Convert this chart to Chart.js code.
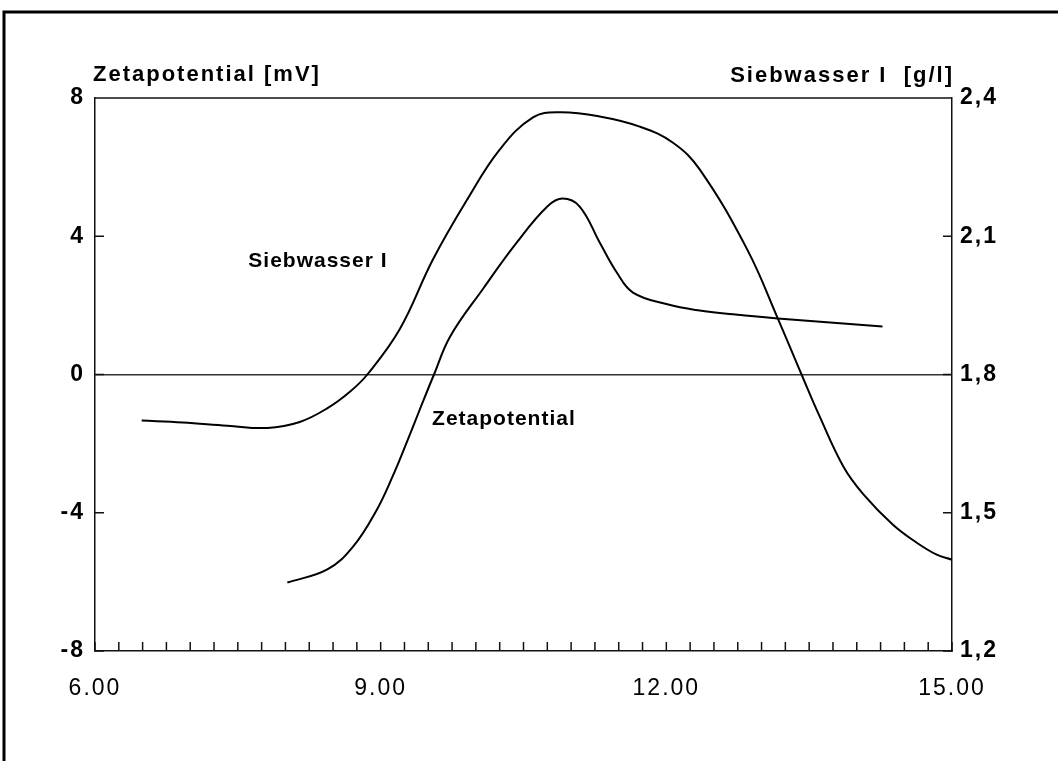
<!DOCTYPE html>
<html>
<head>
<meta charset="utf-8">
<script src="https://cdn.jsdelivr.net/npm/chart.js@4/dist/chart.umd.min.js"></script>
<style>
  html, body { margin: 0; padding: 0; background: #fff; }
  #wrap { width: 1058px; height: 761px; }
</style>
</head>
<body>
<div id="wrap"><canvas id="myChart"></canvas></div>
<script>
// Siebwasser I [g/l] (right axis) over time of day
var sieTime  = [6.49, 6.92, 7.39, 7.81, 8.15, 8.45, 8.68, 8.86, 9.20, 9.55, 9.91, 10.25, 10.60, 10.88, 11.30, 11.72, 12.07, 12.35, 12.85, 13.17, 13.42, 13.61, 13.86, 14.07, 14.38, 14.63, 14.84, 15.00];
var sieValue = [1.700, 1.696, 1.689, 1.684, 1.697, 1.728, 1.763, 1.800, 1.898, 2.050, 2.180, 2.288, 2.358, 2.369, 2.360, 2.338, 2.303, 2.245, 2.071, 1.922, 1.800, 1.709, 1.600, 1.540, 1.474, 1.435, 1.409, 1.398];

// Zetapotential [mV] (left axis)
var zetaTime  = [8.02, 8.44, 8.71, 8.96, 9.13, 9.28, 9.41, 9.56, 9.73, 10.07, 10.43, 10.75, 10.91, 11.09, 11.30, 11.48, 11.65, 12.01, 12.35, 12.70, 13.17, 14.27];
var zetaValue = [-6.02, -5.64, -4.98, -3.91, -2.92, -1.92, -1.02, 0.00, 1.10, 2.46, 3.82, 4.86, 5.09, 4.86, 3.82, 2.95, 2.37, 2.03, 1.85, 1.74, 1.62, 1.39];

var xLabels = [6, 9, 12, 15];

function toPoints(xs, ys) {
  return xs.map(function (x, i) { return { x: x, y: ys[i] }; });
}

var font = 'Liberation Sans, Arial, sans-serif';

// frame, inward ticks, titles and curve labels
var decor = {
  id: 'decor',
  beforeDraw: function (chart) {
    chart.ctx.letterSpacing = '2px';
  },
  afterDraw: function (chart) {
    var ctx = chart.ctx, a = chart.chartArea, s = chart.scales;
    ctx.save();
    ctx.strokeStyle = '#111';
    ctx.lineWidth = 1.5;
    ctx.beginPath();
    ctx.moveTo(a.left, a.top);
    ctx.lineTo(a.right, a.top);
    s.x.ticks.forEach(function (t) {
      var px = s.x.getPixelForValue(t.value);
      ctx.moveTo(px, a.bottom);
      ctx.lineTo(px, a.bottom - 9);
    });
    s.y.ticks.forEach(function (t) {
      var py = s.y.getPixelForValue(t.value);
      ctx.moveTo(a.left, py);
      ctx.lineTo(a.left + 9, py);
    });
    s.y2.ticks.forEach(function (t) {
      var py = s.y2.getPixelForValue(t.value);
      ctx.moveTo(a.right, py);
      ctx.lineTo(a.right - 9, py);
    });
    ctx.stroke();

    // page border (top and left)
    ctx.lineWidth = 3;
    ctx.strokeStyle = '#000';
    ctx.beginPath();
    ctx.moveTo(4, 761);
    ctx.lineTo(4, 12);
    ctx.lineTo(1058, 12);
    ctx.stroke();

    ctx.fillStyle = '#000';
    ctx.textBaseline = 'middle';
    ctx.letterSpacing = '2px';
    ctx.font = 'bold 22px ' + font;
    ctx.textAlign = 'left';
    ctx.fillText('Zetapotential [mV]', a.left - 2, 75);
    ctx.textAlign = 'right';
    ctx.fillText('Siebwasser I  [g/l]', a.right + 2, 76);

    ctx.font = 'bold 21px ' + font;
    ctx.letterSpacing = '1px';
    ctx.textAlign = 'left';
    ctx.fillText('Siebwasser I', s.x.getPixelForValue(7.61), s.y.getPixelForValue(3.27));
    ctx.fillText('Zetapotential', s.x.getPixelForValue(9.54), s.y.getPixelForValue(-1.30));
    ctx.restore();
  }
};

var ctx = document.getElementById('myChart').getContext('2d');
var myChart = new Chart(ctx, {
  type: 'scatter',
  data: {
    datasets: [{
      label: 'Siebwasser I',
      data: toPoints(sieTime, sieValue),
      yAxisID: 'y2',
      showLine: true,
      borderColor: '#000',
      borderWidth: 2,
      pointRadius: 0,
      tension: 0.4
    }, {
      label: 'Zetapotential',
      data: toPoints(zetaTime, zetaValue),
      yAxisID: 'y',
      showLine: true,
      borderColor: '#000',
      borderWidth: 2,
      pointRadius: 0,
      tension: 0.4
    }]
  },
  options: {
    responsive: true,
    maintainAspectRatio: false,
    animation: false,
    layout: { padding: { top: 98, left: 0, right: 0, bottom: 0 } },
    plugins: {
      legend: { display: false },
      tooltip: { enabled: false }
    },
    scales: {
      x: {
        type: 'linear',
        min: 6, max: 15,
        afterFit: function (sc) { sc.height = 110; },
        grid: { display: false, drawTicks: false },
        border: { display: true, color: '#111', width: 1.5 },
        ticks: {
          stepSize: 0.25,
          autoSkip: false,
          maxRotation: 0,
          padding: 24,
          color: '#000',
          font: { family: font, size: 23 },
          callback: function (v) { return xLabels.indexOf(v) >= 0 ? v.toFixed(2) : ''; }
        }
      },
      y: {
        position: 'left',
        min: -8, max: 8,
        afterFit: function (sc) { sc.width = 95; },
        grid: {
          drawTicks: false,
          lineWidth: 1.5,
          color: function (c) { return c.tick && c.tick.value === 0 ? '#333' : 'rgba(0,0,0,0)'; }
        },
        border: { display: true, color: '#111', width: 1.5 },
        ticks: {
          stepSize: 4,
          padding: 10,
          color: '#000',
          font: { family: font, size: 23, weight: 'bold' }
        }
      },
      y2: {
        position: 'right',
        min: 1.2, max: 2.4,
        afterFit: function (sc) { sc.width = 106; },
        grid: { display: false, drawTicks: false },
        border: { display: true, color: '#111', width: 1.5 },
        ticks: {
          stepSize: 0.3,
          padding: 8,
          color: '#000',
          font: { family: font, size: 23, weight: 'bold' },
          callback: function (v) { return v.toFixed(1).replace('.', ','); }
        }
      }
    }
  },
  plugins: [decor]
});
</script>
</body>
</html>
